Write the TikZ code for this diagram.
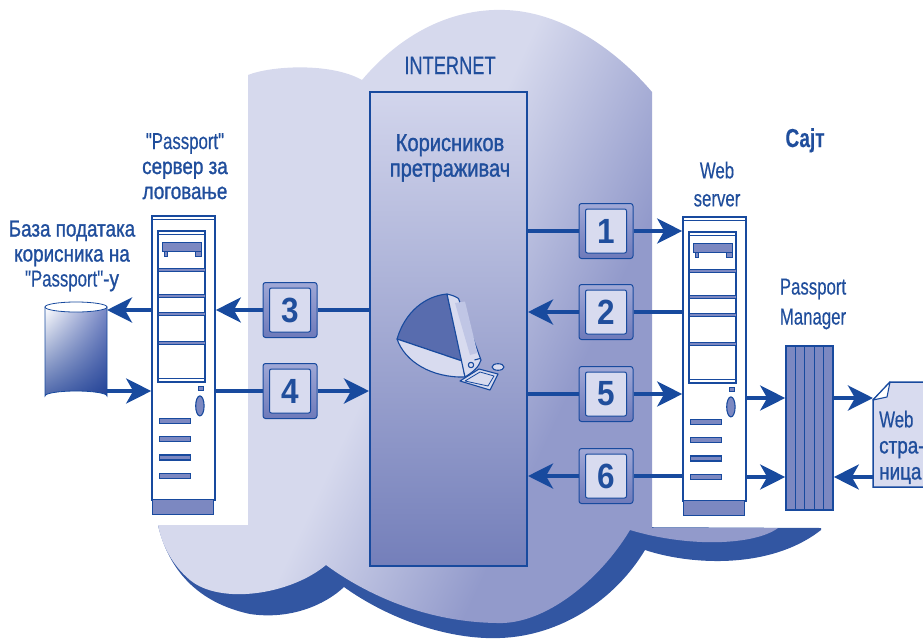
\documentclass[tikz,border=0pt]{standalone}
\usepackage{fontspec}
\setmainfont{Liberation Sans}[FakeStretch=0.82, FakeBold=1.2]
\newfontfamily\latinfont{Liberation Sans}[FakeStretch=0.73, FakeBold=0.4]
\newfontfamily\digitfont{Liberation Sans}[FakeStretch=0.9]
\usetikzlibrary{arrows.meta,shadings}

\definecolor{ink}{RGB}{24,74,158}
\definecolor{txt}{RGB}{32,78,156}
\definecolor{cloudL}{RGB}{214,217,237}
\definecolor{cloudD}{RGB}{146,154,203}
\definecolor{cloudShadow}{RGB}{50,86,162}
\definecolor{mid}{RGB}{124,136,193}
\definecolor{pale}{RGB}{216,219,239}
\definecolor{boxTop}{RGB}{210,213,236}
\definecolor{boxBot}{RGB}{116,127,186}
\definecolor{macDark}{RGB}{88,108,174}
\definecolor{screenC}{RGB}{192,198,229}
\definecolor{frameTop}{RGB}{160,168,214}
\definecolor{frameBot}{RGB}{110,122,186}
\definecolor{dbMid}{RGB}{120,136,198}
\definecolor{dbDark}{RGB}{34,66,150}

\pgfdeclarehorizontalshading{cloudshading}{100bp}{color(0bp)=(cloudL); color(45bp)=(cloudL); color(60bp)=(cloudD); color(100bp)=(cloudD)}

% details of a tower server, drawn from the top-left corner of its node
\newcommand\towerdetail[1]{%
  \begin{scope}[shift={(#1.north west)}]
    \draw[ink, line width=1.2pt] (0,4) -- (63,4);
    \draw[part] (1,284) rectangle (62,299);
    \draw[ink, line width=1.8pt] (7,16) rectangle (54,167);
    \draw[ink, line width=1pt] (7,19.5) -- (54,19.5);
    \draw[ink, line width=1pt] (7,163.5) -- (54,163.5);
    \draw[part] (11,27) rectangle (50,36);
    \draw[part] (13,36) rectangle (16,41);
    \draw[part] (44,36) rectangle (50,41);
    \foreach \yy in {53,79,97,126} {\draw[part] (7,\yy) rectangle (54,\yy+3.5);}
    \draw[part] (47,171) rectangle (52,175);
    \draw[part] (48.7,190.7) ellipse (4.2 and 10);
    \foreach \yy in {203.2,221.5,239.8,258.2} {\draw[part] (8,\yy) rectangle (39,\yy+5);}
  \end{scope}}

\begin{document}
\begin{tikzpicture}[x=1pt, y=-1pt,
  flow/.style={draw=ink, line width=4pt},
  arr/.style={flow, -{Stealth[length=25pt, width=25pt, inset=7pt]}},
  server/.style={draw=ink, line width=1.6pt, fill=white, minimum width=63pt, minimum height=284pt, inner sep=0pt},
  part/.style={draw=ink, line width=1.1pt, fill=mid},
  numframe/.style={draw=ink, line width=1pt, rounded corners=2.5pt, top color=frameTop, bottom color=frameBot, minimum width=54pt, minimum height=55pt, inner sep=0pt},
  numface/.style={draw=ink, line width=1pt, rounded corners=2pt, fill=pale, minimum width=41pt, minimum height=44pt, inner sep=0pt, text=txt, font=\digitfont\bfseries\fontsize{35}{35}\selectfont},
  label/.style={text=txt, align=center, inner sep=0pt, font=\fontsize{23}{25}\selectfont},
  ghost/.style={inner sep=0pt, outer sep=0pt}]

\useasboundingbox (0,0) rectangle (923,640);
\clip (0,0) rectangle (923,640);

% cloud shadow
\fill[cloudShadow] (158,525) .. controls (165,555) and (185,600) .. (250,614)
  .. controls (290,620) and (325,605) .. (344,587)
  .. controls (390,620) and (450,640) .. (500,638)
  .. controls (560,636) and (615,600) .. (645,550)
  .. controls (690,565) and (770,570) .. (821,530)
  -- (821,528) -- (158,525) -- cycle;

% the Internet cloud
\shade[shading=cloudshading, shading angle=-25] (248,75)
  .. controls (270,66) and (330,62) .. (362,80)
  .. controls (400,35) and (450,8) .. (505,10)
  .. controls (570,12) and (625,60) .. (652,92)
  -- (652,528) -- (778,528)
  .. controls (755,545) and (690,548) .. (630,530)
  .. controls (600,580) and (545,625) .. (497,623)
  .. controls (420,622) and (360,590) .. (326,565)
  .. controls (290,595) and (220,605) .. (190,580)
  .. controls (172,565) and (162,545) .. (158,525)
  -- (248,525) -- cycle;

\node[label, font=\latinfont\fontsize{25}{25}\selectfont, anchor=base] (inet) at (450,74) {INTERNET};

% browser column
\node[draw=ink, line width=2pt, top color=boxTop, bottom color=boxBot, minimum width=157pt, minimum height=474pt, inner sep=0pt] (br) at (448.5,329) {};
\node[label, font=\fontsize{24.5}{25.5}\selectfont, anchor=north] (brl) at (450,134) {Корисников\\претраживач};

% computer
\begin{scope}[line width=1.1pt, line join=round]
  \filldraw[fill=macDark, draw=ink] (397,339) .. controls (405,312) and (425,296) .. (447,294) -- (462,361) -- cycle;
  \filldraw[fill=pale, draw=ink] (397,339) .. controls (405,362) and (432,378) .. (465,377) -- (462,361) -- cycle;
  \filldraw[fill=pale, draw=ink] (447,294) .. controls (451,295) and (455,296) .. (458.5,298.5) -- (481,360) .. controls (479,367) and (473,372) .. (465,377) -- cycle;
  \fill[screenC] (455,303) -- (465,301.5) -- (477.5,353) -- (470,355) -- cycle;
  \filldraw[fill=pale, draw=ink] (471,365) circle (2.7);
  \draw[ink] (474.5,360) -- (480,358.5);
  \filldraw[fill=pale, draw=ink] (460,381) -- (479,369) -- (498,374) -- (490,390) -- cycle;
  \draw[ink, line width=0.8pt] (465,381) -- (480,372) -- (494,376) -- (488,386) -- cycle;
  \filldraw[fill=pale, draw=ink] (498,367) ellipse (6 and 3.3);
\end{scope}

% left side: login server and user database
\node[label, anchor=north] (lps) at (185,133) {{\latinfont "Passport"}\\сервер за\\логовање};
\node[label, anchor=north] (ldb) at (72,220.5) {База података\\корисника на\\{\latinfont "Passport"}-у};
\node[server] (ps) at (183.5,358) {};
\towerdetail{ps}

\node[ghost, minimum width=62pt, minimum height=94pt] (db) at (76,350) {};
\shade[upper left=white, upper right=dbMid, lower left=dbDark!80, lower right=dbDark, draw=ink, line width=0.8pt]
  (45,307) -- (45,396) arc[start angle=180, end angle=360, x radius=31, y radius=5] -- (107,307) -- cycle;
\filldraw[fill=white, draw=ink, line width=0.8pt] (76,307) ellipse (31 and 5);

% right side: web site
\node[label, font=\bfseries\latinfont\fontsize{26}{26}\selectfont, anchor=base] (site) at (805,147) {Сајт};
\node[label, font=\latinfont\fontsize{23}{28}\selectfont, anchor=north] (lws) at (717,161.5) {Web\\server};
\node[server] (ws) at (714.5,359) {};
\towerdetail{ws}

\node[label, font=\latinfont\fontsize{23}{30}\selectfont, anchor=north] (lpm) at (813,278.5) {Passport\\Manager};
\node[draw=ink, line width=1.6pt, fill=mid, minimum width=47pt, minimum height=164pt, inner sep=0pt] (pm) at (809.5,428) {};
\foreach \xx in {795.4,804.8,814.2,823.6} {\draw[ink, line width=1.3pt] (\xx,346) -- (\xx,510);}

\node[ghost, minimum width=62pt, minimum height=105pt] (pg) at (904,434.5) {};
\draw[ink, line width=1.5pt, fill=pale] (890,382) -- (940,382) -- (940,487) -- (873,487) -- (873,400) -- cycle;
\draw[ink, line width=1.1pt, fill=white, line join=round] (890,382) -- (887,397) -- (873,400) -- cycle;
\node[label, font=\fontsize{23}{26}\selectfont, align=left, anchor=north west] (pgl) at (879,410.5) {{\latinfont Web}\\стра-\\ница};

% numbered steps
\node[numframe] (b1) at (606,231) {};
\node[numface] (f1) at (b1) {1};
\node[numframe] (b2) at (606,312) {};
\node[numface] (f2) at (b2) {2};
\node[numframe] (b3) at (290,310) {};
\node[numface] (f3) at (b3) {3};
\node[numframe] (b4) at (290,391) {};
\node[numface] (f4) at (b4) {4};
\node[numframe] (b5) at (606,394) {};
\node[numface] (f5) at (b5) {5};
\node[numframe] (b6) at (606,476) {};
\node[numface] (f6) at (b6) {6};

% message flow
\draw[flow] (br.east |- b1) -- (b1.west);
\draw[arr] (b1.east) -- (ws.west |- b1);
\draw[flow] (ws.west |- b2) -- (b2.east);
\draw[arr] (b2.west) -- (br.east |- b2);
\draw[flow] (br.west |- b3) -- (b3.east);
\draw[arr] (b3.west) -- (ps.east |- b3);
\draw[flow] (ps.east |- b4) -- (b4.west);
\draw[arr] (b4.east) -- (br.west |- b4);
\draw[flow] (br.east |- b5) -- (b5.west);
\draw[arr] (b5.east) -- (ws.west |- b5);
\draw[flow] (ws.west |- b6) -- (b6.east);
\draw[arr] (b6.west) -- (br.east |- b6);

\draw[arr] (ps.west |- b3) -- (db.east |- b3);
\draw[arr] (db.east |- b4) -- (ps.west |- b4);

\coordinate (r1) at (0,398);
\coordinate (r2) at (0,477);
\draw[arr] (ws.east |- r1) -- (pm.west |- r1);
\draw[arr] (ws.east |- r2) -- (pm.west |- r2);
\draw[arr] (pm.east |- r1) -- (pg.west |- r1);
\draw[arr] (pg.west |- r2) -- (pm.east |- r2);
\end{tikzpicture}
\end{document}
